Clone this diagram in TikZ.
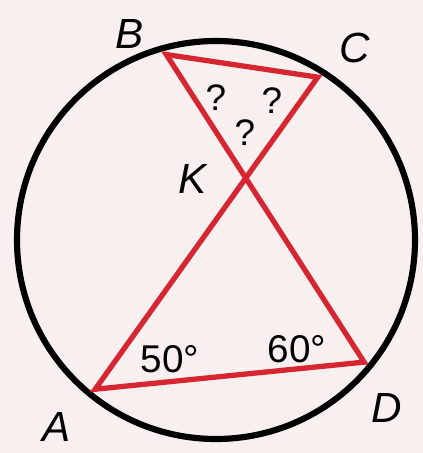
\documentclass[tikz,border=0pt]{standalone}
\usepackage{fontspec}
\setmainfont{Liberation Sans}
\definecolor{bgpink}{RGB}{248,239,239}
\definecolor{chordred}{RGB}{214,38,50}
\tikzset{
  ptlabel/.style={font=\fontsize{24}{28}\selectfont\itshape},
  anglabel/.style={font=\fontsize{22}{26}\selectfont},
  qlabel/.style={font=\fontsize{21}{25}\selectfont}
}
\begin{document}
\begin{tikzpicture}

  % --- 0. 背景と範囲 ---
  \fill[bgpink] (-4.32,-4.26) rectangle (4.14,4.8);
  \useasboundingbox (-4.32,-4.26) rectangle (4.14,4.8);

  % --- 1. 円 ---
  \pgfmathsetmacro{\R}{3.98}
  \pgfmathsetmacro{\r}{3.84}
  \draw[line width=3.5pt] (0,0) circle (\R);

  % --- 2. 円周上の点と交点 K ---
  \coordinate (B) at (105:\r);
  \coordinate (C) at (58:\r);
  \coordinate (A) at (231:\r);
  \coordinate (D) at (-39.5:\r);
  \coordinate (K) at (intersection of A--C and B--D);

  % --- 3. 弦 AC, BD と BC, AD ---
  \draw[chordred, line width=3pt, line join=miter] (A) -- (C) -- (B) -- (D) -- cycle;

  % --- 4. ラベル ---
  \node[ptlabel] (lB) at (-1.72,4.12) {B};
  \node[ptlabel] (lC) at (2.78,3.84) {C};
  \node[ptlabel] (lK) at (-0.46,1.22) {K};
  \node[ptlabel] (lA) at (-3.18,-3.74) {A};
  \node[ptlabel] (lD) at (3.42,-3.36) {D};

  \node[anglabel] (angA) at (-0.92,-2.38) {50°};
  \node[anglabel] (angD) at (1.62,-2.18) {60°};

  \node[qlabel] (qB) at (0,2.84) {?};
  \node[qlabel] (qC) at (1.12,2.78) {?};
  \node[qlabel] (qK) at (0.58,2.14) {?};

\end{tikzpicture}
\end{document}
